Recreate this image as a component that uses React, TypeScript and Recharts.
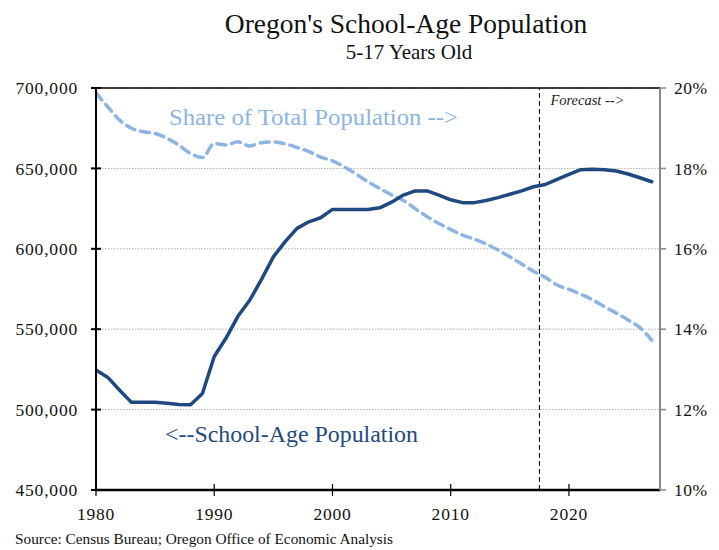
import React from "react";
import {
  LineChart,
  Line,
  XAxis,
  YAxis,
  CartesianGrid,
  ReferenceLine,
} from "recharts";

const years = [
  1980, 1981, 1982, 1983, 1984, 1985, 1986, 1987, 1988, 1989,
  1990, 1991, 1992, 1993, 1994, 1995, 1996, 1997, 1998, 1999,
  2000, 2001, 2002, 2003, 2004, 2005, 2006, 2007, 2008, 2009,
  2010, 2011, 2012, 2013, 2014, 2015, 2016, 2017, 2018, 2019,
  2020, 2021, 2022, 2023, 2024, 2025, 2026, 2027,
];

const schoolAgePop = [
  524600, 520000, 512000, 504500, 504500, 504500, 504000, 503200, 503000, 510000,
  533000, 544500, 558000, 568000, 581000, 595000, 604500, 612700, 616800, 619300,
  624500, 624500, 624500, 624500, 625500, 629000, 633400, 636000, 636000, 633400,
  630500, 628700, 628700, 630000, 631800, 633900, 636000, 638600, 640000, 643200,
  646300, 649200, 649400, 649200, 648400, 646500, 644200, 641700,
];

const shareOfTotal = [
  19.88, 19.53, 19.2, 19.0, 18.91, 18.87, 18.75, 18.58, 18.37, 18.27,
  18.62, 18.58, 18.66, 18.56, 18.64, 18.66, 18.61, 18.52, 18.42, 18.28,
  18.19, 18.04, 17.86, 17.67, 17.5, 17.34, 17.2, 17.0, 16.8, 16.63,
  16.48, 16.34, 16.24, 16.12, 15.97, 15.8, 15.62, 15.44, 15.29, 15.1,
  14.99, 14.87, 14.73, 14.56, 14.4, 14.23, 14.04, 13.73,
];

const xTicks = [1980, 1990, 2000, 2010, 2020];
const leftTicks = [450000, 500000, 550000, 600000, 650000, 700000];
const rightTicks = [10, 12, 14, 16, 18, 20];
const forecastStart = 2017.5;

const data = years.map((year, i) => ({
  year,
  pop: schoolAgePop[i],
  share: shareOfTotal[i],
}));

const DARK = "#1F4A80";
const LIGHT = "#8DB4E2";
const TICK_FONT = "'Liberation Serif', 'Times New Roman', serif";
const TEXT_FONT = "'Liberation Serif', 'Times New Roman', serif";

const LeftTick = (props: any) => {
  const { x, y, payload } = props;
  return (
    <g>
      <line x1={x - 5} x2={x + 5} y1={y} y2={y} stroke="#000" strokeWidth={2} />
      <text
        x={x - 18}
        y={y}
        dy="0.35em"
        textAnchor="end"
        fontFamily={TICK_FONT}
        fontSize={17.5}
        letterSpacing={0.8}
        fill="#111"
      >
        {Number(payload.value).toLocaleString("en-US")}
      </text>
    </g>
  );
};

const RightTick = (props: any) => {
  const { x, y, payload } = props;
  return (
    <g>
      <line x1={x} x2={x + 6} y1={y} y2={y} stroke="#888" strokeWidth={1.5} />
      <text
        x={x + 14}
        y={y}
        dy="0.35em"
        textAnchor="start"
        fontFamily={TICK_FONT}
        fontSize={17.5}
        letterSpacing={0.5}
        fill="#111"
      >
        {payload.value}%
      </text>
    </g>
  );
};

const BottomTick = (props: any) => {
  const { x, y, payload } = props;
  return (
    <g>
      <line x1={x} x2={x} y1={y - 6} y2={y + 6} stroke="#000" strokeWidth={1.2} />
      <text
        x={x}
        y={y + 24}
        dy="0.35em"
        textAnchor="middle"
        fontFamily={TICK_FONT}
        fontSize={17.5}
        letterSpacing={0.8}
        fill="#111"
      >
        {payload.value}
      </text>
    </g>
  );
};

const ForecastLabel = (props: any) => {
  const vb = props.viewBox || {};
  return (
    <text
      x={(vb.x || 0) + 11}
      y={(vb.y || 0) + 17}
      fontFamily={TEXT_FONT}
      fontStyle="italic"
      fontSize={14.5}
      fill="#222"
    >
      {"Forecast -->"}
    </text>
  );
};

export default function App() {
  return (
    <div style={{ position: "absolute", left: 0, top: 0, width: 719, height: 550, background: "#fff" }}>
      <LineChart
        width={719}
        height={550}
        data={data}
        margin={{ top: 88, right: 0, bottom: 30, left: 0 }}
      >
        <CartesianGrid
          yAxisId="left"
          horizontal={true}
          vertical={false}
          stroke="#b0b0b0"
          strokeDasharray="1.5 1.5"
        />
        <XAxis
          dataKey="year"
          type="number"
          domain={[1980, 2027.7]}
          ticks={xTicks}
          allowDataOverflow
          height={30}
          tickLine={false}
          tickSize={0}
          tickMargin={0}
          axisLine={{ stroke: "#000", strokeWidth: 2.5 }}
          tick={<BottomTick />}
          interval={0}
        />
        <YAxis
          yAxisId="left"
          orientation="left"
          width={96}
          domain={[450000, 700000]}
          ticks={leftTicks}
          interval={0}
          tickLine={false}
          tickSize={0}
          tickMargin={0}
          axisLine={{ stroke: "#000", strokeWidth: 2 }}
          tick={<LeftTick />}
        />
        <YAxis
          yAxisId="right"
          orientation="right"
          width={59}
          domain={[10, 20]}
          ticks={rightTicks}
          interval={0}
          tickLine={false}
          tickSize={0}
          tickMargin={0}
          axisLine={{ stroke: "#888", strokeWidth: 2 }}
          tick={<RightTick />}
        />
        <ReferenceLine yAxisId="left" y={700000} stroke="#000" strokeWidth={1.5} />
        <ReferenceLine
          yAxisId="left"
          x={forecastStart}
          stroke="#000"
          strokeWidth={1}
          strokeDasharray="5 3"
          label={<ForecastLabel />}
        />
        <Line
          yAxisId="right"
          dataKey="share"
          type="monotone"
          stroke={LIGHT}
          strokeWidth={3.5}
          strokeDasharray="9 6"
          strokeLinecap="round"
          dot={false}
          activeDot={false}
          isAnimationActive={false}
        />
        <Line
          yAxisId="left"
          dataKey="pop"
          type="linear"
          stroke={DARK}
          strokeWidth={3.5}
          strokeLinejoin="round"
          strokeLinecap="round"
          dot={false}
          activeDot={false}
          isAnimationActive={false}
        />
      </LineChart>
      <svg
        width={719}
        height={550}
        style={{ position: "absolute", left: 0, top: 0, pointerEvents: "none" }}
      >
        <text x={406} y={33} textAnchor="middle" fontFamily={TEXT_FONT} fontSize={27.5} fill="#111">
          Oregon's School-Age Population
        </text>
        <text x={409} y={59} textAnchor="middle" fontFamily={TEXT_FONT} fontSize={21} fill="#111">
          5-17 Years Old
        </text>
        <text x={169} y={125} fontFamily={TEXT_FONT} fontSize={24} fill={LIGHT} textLength={289} lengthAdjust="spacingAndGlyphs">
          {"Share of Total Population -->"}
        </text>
        <text x={165} y={442} fontFamily={TEXT_FONT} fontSize={24} fill={DARK} textLength={253} lengthAdjust="spacingAndGlyphs">
          {"<--School-Age Population"}
        </text>
        <text x={15} y={544} fontFamily={TEXT_FONT} fontSize={15} fill="#111" textLength={378} lengthAdjust="spacingAndGlyphs">
          Source: Census Bureau; Oregon Office of Economic Analysis
        </text>
      </svg>
    </div>
  );
}
